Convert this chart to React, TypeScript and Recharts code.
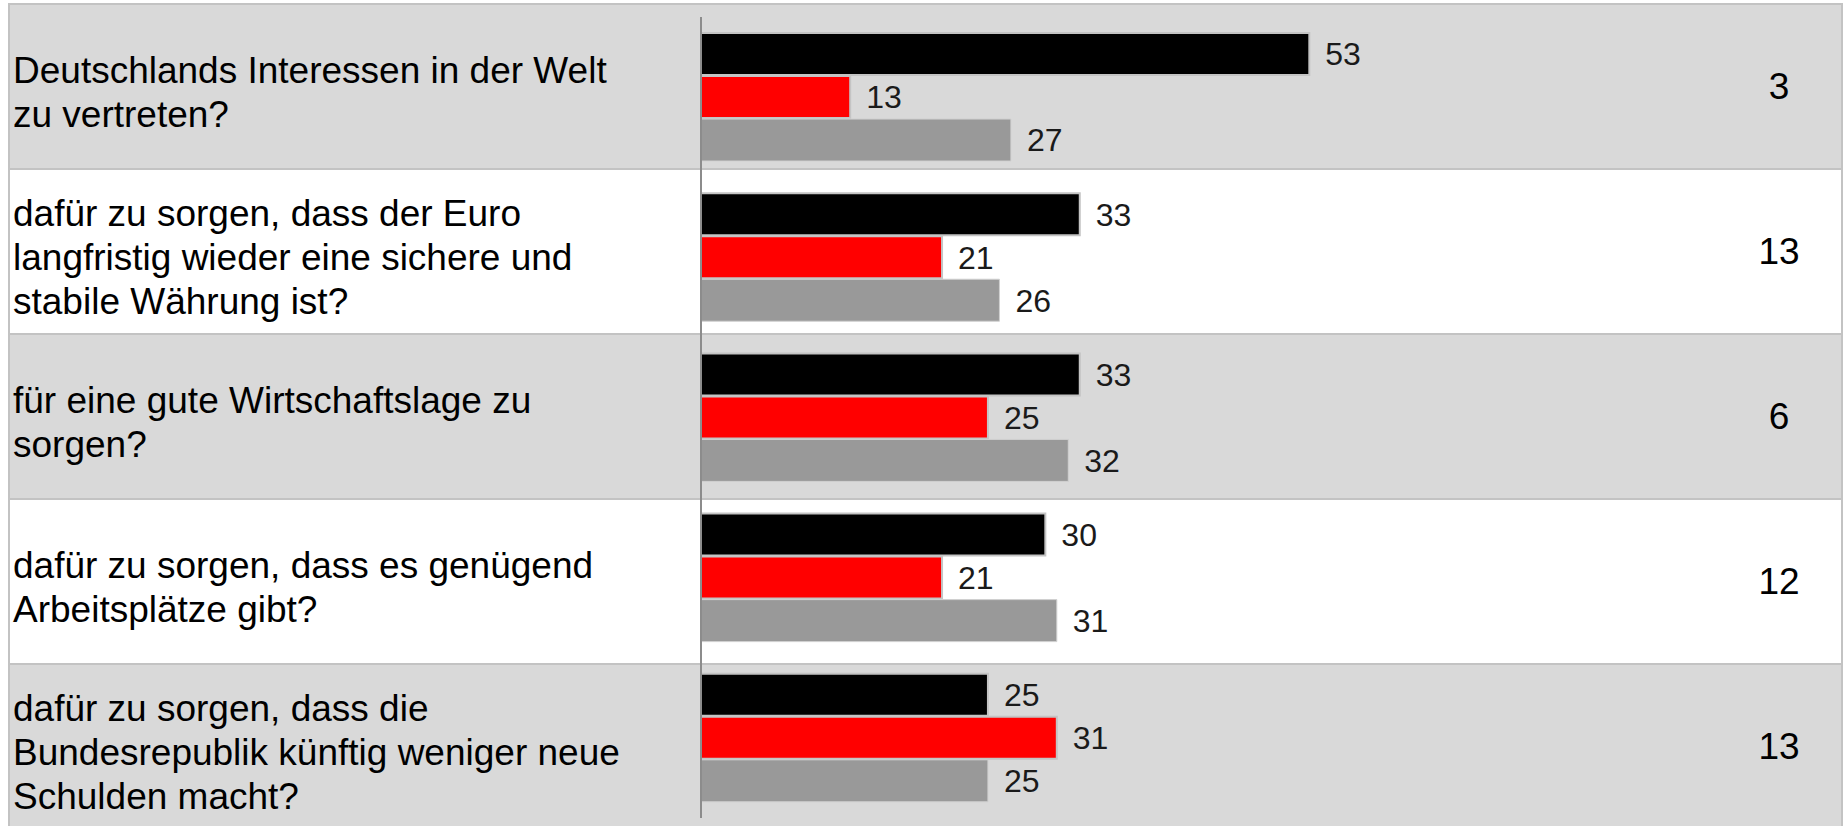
import React from "react";
import { BarChart, Bar, XAxis, YAxis, LabelList } from "recharts";

// Fragen (Kategorien), Zeilenumbrüche wie im Original
const questions = [
  "Deutschlands Interessen in der Welt\nzu vertreten?",
  "dafür zu sorgen, dass der Euro\nlangfristig wieder eine sichere und\nstabile Währung ist?",
  "für eine gute Wirtschaftslage zu\nsorgen?",
  "dafür zu sorgen, dass es genügend\nArbeitsplätze gibt?",
  "dafür zu sorgen, dass die\nBundesrepublik künftig weniger neue\nSchulden macht?",
];

const union = [53, 33, 33, 30, 25];
const spd = [13, 21, 25, 21, 31];
const keine = [27, 26, 32, 31, 25];
const weissNicht = [3, 13, 6, 12, 13];

const data = questions.map((q, i) => ({
  name: q,
  union: union[i],
  spd: spd[i],
  keine: keine[i],
}));

const FONT = "'Liberation Sans', Arial, Helvetica, sans-serif";
const ROW_TOP = 3;
const ROW_H = 165;

const Rows = () => (
  <>
    {questions.map((q, i) => (
      <div
        key={i}
        style={{
          position: "absolute",
          left: 8,
          top: ROW_TOP + i * ROW_H,
          width: 1835,
          height: ROW_H,
          boxSizing: "border-box",
          borderTop: "2px solid #c3c3c3",
          borderLeft: "2px solid #c3c3c3",
          borderRight: "2px solid #c3c3c3",
          background: i % 2 === 0 ? "#d9d9d9" : "#ffffff",
          fontFamily: FONT,
          color: "#000",
        }}
      >
        <div
          style={{
            position: "absolute",
            left: 3,
            top: 6,
            height: ROW_H - 2,
            display: "flex",
            alignItems: "center",
            fontSize: 37,
            lineHeight: "44px",
            whiteSpace: "pre-line",
          }}
        >
          {q}
        </div>
        <div
          style={{
            position: "absolute",
            left: 1719,
            width: 100,
            top: 0,
            height: ROW_H - 2,
            display: "flex",
            alignItems: "center",
            justifyContent: "center",
            fontSize: 37,
          }}
        >
          {weissNicht[i]}
        </div>
      </div>
    ))}
  </>
);

const labelStyle = { fill: "#1a1a1a", fontSize: 32, fontFamily: FONT };

export default function App() {
  return (
    <div style={{ position: "absolute", left: 0, top: 0, width: 1845, height: 826, overflow: "hidden" }}>
      <Rows />
      <div style={{ position: "absolute", left: 0, top: 0 }}>
        <BarChart
          width={1845}
          height={826}
          data={data}
          layout="vertical"
          margin={{ top: 17, right: 111, bottom: 8, left: 0 }}
          barCategoryGap="10%"
          barGap={1}
        >
          <XAxis type="number" domain={[0, 90]} hide />
          <YAxis
            type="category"
            dataKey="name"
            width={701}
            tick={false}
            tickLine={false}
            axisLine={{ stroke: "#8c8c8c", strokeWidth: 2 }}
          />
          <Bar dataKey="union" fill="#000000" stroke="#c4c4c4" strokeWidth={2} isAnimationActive={false}>
            <LabelList dataKey="union" position="right" offset={16} style={labelStyle} />
          </Bar>
          <Bar dataKey="spd" fill="#ff0000" stroke="#c4c4c4" strokeWidth={2} isAnimationActive={false}>
            <LabelList dataKey="spd" position="right" offset={16} style={labelStyle} />
          </Bar>
          <Bar dataKey="keine" fill="#999999" stroke="#d0d0d0" strokeWidth={1} isAnimationActive={false}>
            <LabelList dataKey="keine" position="right" offset={16} style={labelStyle} />
          </Bar>
        </BarChart>
      </div>
    </div>
  );
}
